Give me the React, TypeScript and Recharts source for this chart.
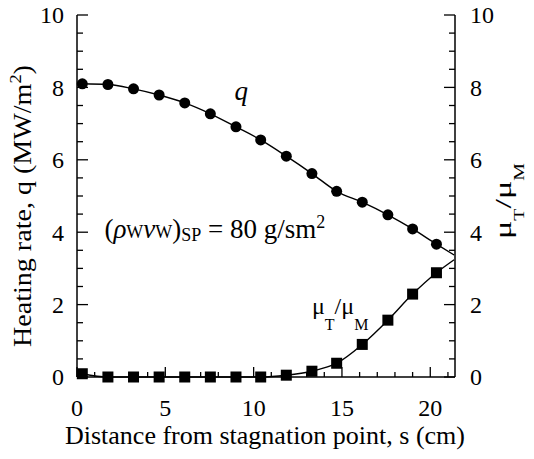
import { LineChart, Line, XAxis, YAxis, ReferenceDot } from "recharts";

// distance from stagnation point (cm); last entry is where the fitted curves leave the frame
const S = [0.3, 1.75, 3.2, 4.65, 6.1, 7.55, 9.0, 10.4, 11.85, 13.3, 14.7, 16.15, 17.6, 19.0, 20.35, 21.35];
// heating rate q (MW/m^2)
const Q = [8.1, 8.08, 7.96, 7.79, 7.57, 7.27, 6.91, 6.55, 6.1, 5.62, 5.13, 4.83, 4.48, 4.09, 3.67, 3.37];
// turbulent / molecular viscosity ratio
const MU = [0.09, 0, 0, 0, 0, 0, 0, 0, 0.05, 0.16, 0.38, 0.9, 1.57, 2.29, 2.88, 3.24];

const X_TICKS = [0, 1, 2, 3, 4, 5, 6, 7, 8, 9, 10, 11, 12, 13, 14, 15, 16, 17, 18, 19, 20, 21];
const Y_TICKS = [0, 0.5, 1, 1.5, 2, 2.5, 3, 3.5, 4, 4.5, 5, 5.5, 6, 6.5, 7, 7.5, 8, 8.5, 9, 9.5, 10];

const SERIF = { fontFamily: "'Liberation Serif', 'Times New Roman', serif" };
const INK = "#000";

const data = S.map((s, i) => ({ s, q: Q[i], mu: MU[i] }));
const lastIdx = S.length - 1;

function BottomTick({ x, y, payload }: any) {
  const major = payload.value % 5 === 0;
  return (
    <g>
      <line x1={x} x2={x} y1={y} y2={y - (major ? 10 : 5)} stroke={INK} strokeWidth={1.3} />
      {major && (
        <text x={x} y={y + 39} textAnchor="middle" fontSize={24} style={SERIF} fill={INK}>
          {payload.value}
        </text>
      )}
    </g>
  );
}

function TopTick({ x, y, payload }: any) {
  const major = payload.value % 5 === 0;
  return <line x1={x} x2={x} y1={y} y2={y + (major ? 10 : 5)} stroke={INK} strokeWidth={1.3} />;
}

function LeftTick({ x, y, payload }: any) {
  const major = payload.value % 2 === 0;
  return (
    <g>
      <line x1={x} x2={x + (major ? 11 : 6)} y1={y} y2={y} stroke={INK} strokeWidth={1.3} />
      {major && (
        <text x={x - 13} y={y} dy="0.35em" textAnchor="end" fontSize={24} style={SERIF} fill={INK}>
          {payload.value}
        </text>
      )}
    </g>
  );
}

function RightTick({ x, y, payload }: any) {
  const major = payload.value % 2 === 0;
  return (
    <g>
      <line x1={x} x2={x - (major ? 11 : 6)} y1={y} y2={y} stroke={INK} strokeWidth={1.3} />
      {major && (
        <text x={x + 15} y={y} dy="0.35em" textAnchor="start" fontSize={24} style={SERIF} fill={INK}>
          {payload.value}
        </text>
      )}
    </g>
  );
}

function CircleDot({ cx, cy, index }: any) {
  if (index === lastIdx) return <g key={`c${index}`} />;
  return <circle key={`c${index}`} cx={cx} cy={cy} r={5.5} fill={INK} />;
}

function SquareDot({ cx, cy, index }: any) {
  if (index === lastIdx) return <g key={`r${index}`} />;
  return <rect key={`r${index}`} x={cx - 5.5} y={cy - 5.5} width={11} height={11} fill={INK} />;
}

function LeftTitle({ viewBox }: any) {
  const cx = 31;
  const cy = viewBox.y + viewBox.height / 2 + 10;
  return (
    <text
      x={cx}
      y={cy}
      transform={`rotate(-90 ${cx} ${cy})`}
      textAnchor="middle"
      fontSize={26}
      textLength={282}
      lengthAdjust="spacingAndGlyphs"
      style={SERIF}
      fill={INK}
    >
      Heating rate, q (MW/m
      <tspan dy={-10} fontSize={17}>2</tspan>
      <tspan dy={10}>)</tspan>
    </text>
  );
}

function RightTitle({ viewBox }: any) {
  const cx = 511;
  const cy = viewBox.y + viewBox.height / 2 + 5;
  return (
    <text
      x={cx}
      y={cy}
      transform={`rotate(-90 ${cx} ${cy})`}
      textAnchor="middle"
      fontSize={24}
      textLength={76}
      lengthAdjust="spacingAndGlyphs"
      style={SERIF}
      fill={INK}
    >
      μ<tspan dy={13} fontSize={14}>T</tspan>
      <tspan dy={-13}>/μ</tspan>
      <tspan dy={13} fontSize={14}>M</tspan>
    </text>
  );
}

function BottomTitle({ viewBox }: any) {
  return (
    <text x={viewBox.x + viewBox.width / 2 - 1} y={444} textAnchor="middle" fontSize={26} style={SERIF} fill={INK}>
      Distance from stagnation point, s (cm)
    </text>
  );
}

function QNote({ viewBox }: any) {
  return (
    <text x={viewBox.x} y={viewBox.y} dy="0.35em" textAnchor="middle" fontSize={27} fontStyle="italic" style={SERIF} fill={INK}>
      q
    </text>
  );
}

function BlowingNote({ viewBox }: any) {
  return (
    <text x={viewBox.x} y={viewBox.y} dy="0.35em" textAnchor="start" fontSize={27} style={SERIF} fill={INK}>
      (<tspan fontStyle="italic">ρ</tspan>
      <tspan fontSize={18}>W</tspan>
      <tspan fontStyle="italic">ν</tspan>
      <tspan fontSize={18}>W</tspan>)
      <tspan dy={3} fontSize={18}>SP</tspan>
      <tspan dy={-3}> = 80 g/sm</tspan>
      <tspan dy={-10} fontSize={18}>2</tspan>
    </text>
  );
}

function MuNote({ viewBox }: any) {
  return (
    <text x={viewBox.x} y={viewBox.y} textAnchor="start" fontSize={24} style={SERIF} fill={INK}>
      μ<tspan dy={16} fontSize={16}>T</tspan>
      <tspan dy={-16}>/μ</tspan>
      <tspan dy={16} fontSize={16}>M</tspan>
    </text>
  );
}

export default function App() {
  return (
    <div style={{ position: "absolute", left: 0, top: 0, background: "#fff" }}>
      <LineChart width={534} height={459} data={data} margin={{ top: 15, right: 0, bottom: 0, left: 0 }}>
        <XAxis
          xAxisId="bottom"
          dataKey="s"
          type="number"
          domain={[0, 21.4]}
          ticks={X_TICKS}
          interval={0}
          height={82}
          tickSize={0}
          tickMargin={0}
          tickLine={false}
          axisLine={{ stroke: INK, strokeWidth: 1.5 }}
          tick={<BottomTick />}
          label={<BottomTitle />}
        />
        <XAxis
          xAxisId="top"
          orientation="top"
          dataKey="s"
          type="number"
          domain={[0, 21.4]}
          ticks={X_TICKS}
          interval={0}
          height={0}
          tickSize={0}
          tickMargin={0}
          tickLine={false}
          axisLine={{ stroke: INK, strokeWidth: 1.5 }}
          tick={<TopTick />}
        />
        <YAxis
          yAxisId="left"
          type="number"
          domain={[0, 10]}
          ticks={Y_TICKS}
          interval={0}
          width={77}
          tickSize={0}
          tickMargin={0}
          tickLine={false}
          axisLine={{ stroke: INK, strokeWidth: 1.5 }}
          tick={<LeftTick />}
          label={<LeftTitle />}
        />
        <YAxis
          yAxisId="right"
          orientation="right"
          type="number"
          domain={[0, 10]}
          ticks={Y_TICKS}
          interval={0}
          width={79}
          tickSize={0}
          tickMargin={0}
          tickLine={false}
          axisLine={{ stroke: INK, strokeWidth: 1.5 }}
          tick={<RightTick />}
          label={<RightTitle />}
        />
        <Line
          xAxisId="bottom"
          yAxisId="left"
          dataKey="q"
          type="monotone"
          stroke={INK}
          strokeWidth={1.4}
          dot={<CircleDot />}
          activeDot={false}
          isAnimationActive={false}
        />
        <Line
          xAxisId="bottom"
          yAxisId="right"
          dataKey="mu"
          type="monotone"
          stroke={INK}
          strokeWidth={1.4}
          dot={<SquareDot />}
          activeDot={false}
          isAnimationActive={false}
        />
        <ReferenceDot xAxisId="bottom" yAxisId="left" x={9.3} y={7.9} r={0} label={<QNote />} />
        <ReferenceDot xAxisId="bottom" yAxisId="left" x={1.55} y={4.1} r={0} label={<BlowingNote />} />
        <ReferenceDot xAxisId="bottom" yAxisId="left" x={13.3} y={1.75} r={0} label={<MuNote />} />
      </LineChart>
    </div>
  );
}
